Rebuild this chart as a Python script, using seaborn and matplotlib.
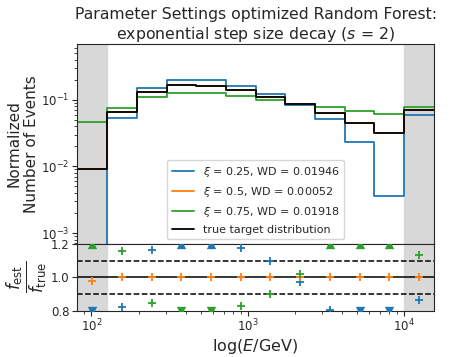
import numpy as np
import pandas as pd
import matplotlib
matplotlib.use('Agg')
import matplotlib.pyplot as plt
import seaborn as sns

# log10(E/GeV) bin edges: underflow, 10 bins, overflow
log_edges = [1.91, 2.10, 2.29, 2.48, 2.67, 2.86, 3.05, 3.24, 3.43, 3.62, 3.81, 4.00, 4.19]

# normalized event counts per bin (underflow ... overflow)
true_hist = [0.0093, 0.0658, 0.131, 0.165, 0.162, 0.139, 0.110, 0.0857, 0.0635, 0.045, 0.0319, 0.0697]
xi025_hist = [0.0, 0.0540, 0.152, 0.2004, 0.196, 0.163, 0.121, 0.0831, 0.0511, 0.0234, 0.00363, 0.0600]
xi05_hist = [0.00907, 0.0658, 0.131, 0.165, 0.162, 0.139, 0.110, 0.0857, 0.0635, 0.045, 0.0319, 0.0697]
xi075_hist = [0.0466, 0.0763, 0.111, 0.128, 0.126, 0.115, 0.099, 0.0874, 0.077, 0.0673, 0.0607, 0.0788]

labels = [r'$\xi$ = 0.25, WD = 0.01946',
          r'$\xi$ = 0.5, WD = 0.00052',
          r'$\xi$ = 0.75, WD = 0.01918']
colors = ['#1f77b4', '#ff7f0e', '#2ca02c']

sns.set_style('ticks')
plt.rcParams['font.family'] = ['DejaVu Sans']
plt.rcParams['xtick.labelsize'] = 8.5
plt.rcParams['ytick.labelsize'] = 8.5
plt.rcParams['xtick.major.size'] = 3.5
plt.rcParams['ytick.major.size'] = 3.5
plt.rcParams['xtick.minor.size'] = 2
plt.rcParams['ytick.minor.size'] = 2
plt.rcParams['xtick.major.pad'] = 1.5
plt.rcParams['ytick.major.pad'] = 2

edges = 10 ** np.array(log_edges)
centers = 10 ** ((np.array(log_edges[:-1]) + np.array(log_edges[1:])) / 2)

fig = plt.figure(figsize=(4.5, 3.57), dpi=100)
ax = fig.add_axes([0.172, 0.317, 0.792, 0.559])
rax = fig.add_axes([0.172, 0.130, 0.792, 0.187], sharex=ax)

for a in (ax, rax):
    a.set_xscale('log')
    a.axvspan(edges[0], edges[1], color='#d8d8d8', zorder=0)
    a.axvspan(edges[-2], edges[-1], color='#d8d8d8', zorder=0)
ax.set_yscale('log')


def steps(vals):
    return pd.DataFrame({'E': edges, 'n': list(vals) + [vals[-1]]})


for vals, lab, col in zip([xi025_hist, xi05_hist, xi075_hist], labels, colors):
    sns.lineplot(data=steps(vals), x='E', y='n', drawstyle='steps-post',
                 color=col, label=lab, linewidth=1.3, ax=ax, estimator=None)
sns.lineplot(data=steps(true_hist), x='E', y='n', drawstyle='steps-post',
             color='black', label='true target distribution', linewidth=1.3,
             ax=ax, estimator=None)

ax.set_xlim(edges[0], edges[-1])
ax.set_ylim(6.9e-4, 0.68)
ax.set_xlabel('')
ax.set_ylabel('Normalized\nNumber of Events', fontsize=11)
ax.yaxis.set_label_coords(-0.108, 0.5)
ax.tick_params(axis='x', which='both', labelbottom=False)
ax.set_title('Parameter Settings optimized Random Forest:\nexponential step size decay ($s$ = 2)',
             fontsize=11.3, pad=4)
leg = ax.legend(loc='lower center', fontsize=8, labelspacing=0.55,
                borderaxespad=0.4)

# ratio panel
lo, hi = 0.8, 1.2
true_arr = np.array(true_hist)
for vals, col in zip([xi025_hist, xi05_hist, xi075_hist], colors):
    r = np.array(vals) / true_arr
    inside = (r >= lo) & (r <= hi)
    above = r > hi
    below = r < lo
    if inside.any():
        sns.scatterplot(x=centers[inside], y=r[inside], marker='+', color=col,
                        s=36, linewidth=1.3, ax=rax, zorder=3, clip_on=True)
    if above.any():
        sns.scatterplot(x=centers[above], y=np.full(above.sum(), hi), marker='^',
                        color=col, s=45, linewidth=0, ax=rax, zorder=3, clip_on=True)
    if below.any():
        sns.scatterplot(x=centers[below], y=np.full(below.sum(), lo), marker='v',
                        color=col, s=45, linewidth=0, ax=rax, zorder=3, clip_on=True)

rax.axhline(1.0, color='black', linewidth=1.1)
rax.axhline(1.2, color='black', linewidth=1.1)
rax.axhline(1.1, color='black', linestyle='--', linewidth=1.1)
rax.axhline(0.9, color='black', linestyle='--', linewidth=1.1)
rax.set_ylim(lo, hi)
rax.set_yticks([0.8, 1.0, 1.2])
rax.set_xlim(edges[0], edges[-1])
rax.set_ylabel(r'$\frac{f_\mathrm{est}}{f_\mathrm{true}}$', fontsize=17)
rax.yaxis.set_label_coords(-0.077, 0.5)
rax.set_xlabel(r'log($E$/GeV)', fontsize=11.5, labelpad=2)

fig.savefig('out.png', dpi=100)
